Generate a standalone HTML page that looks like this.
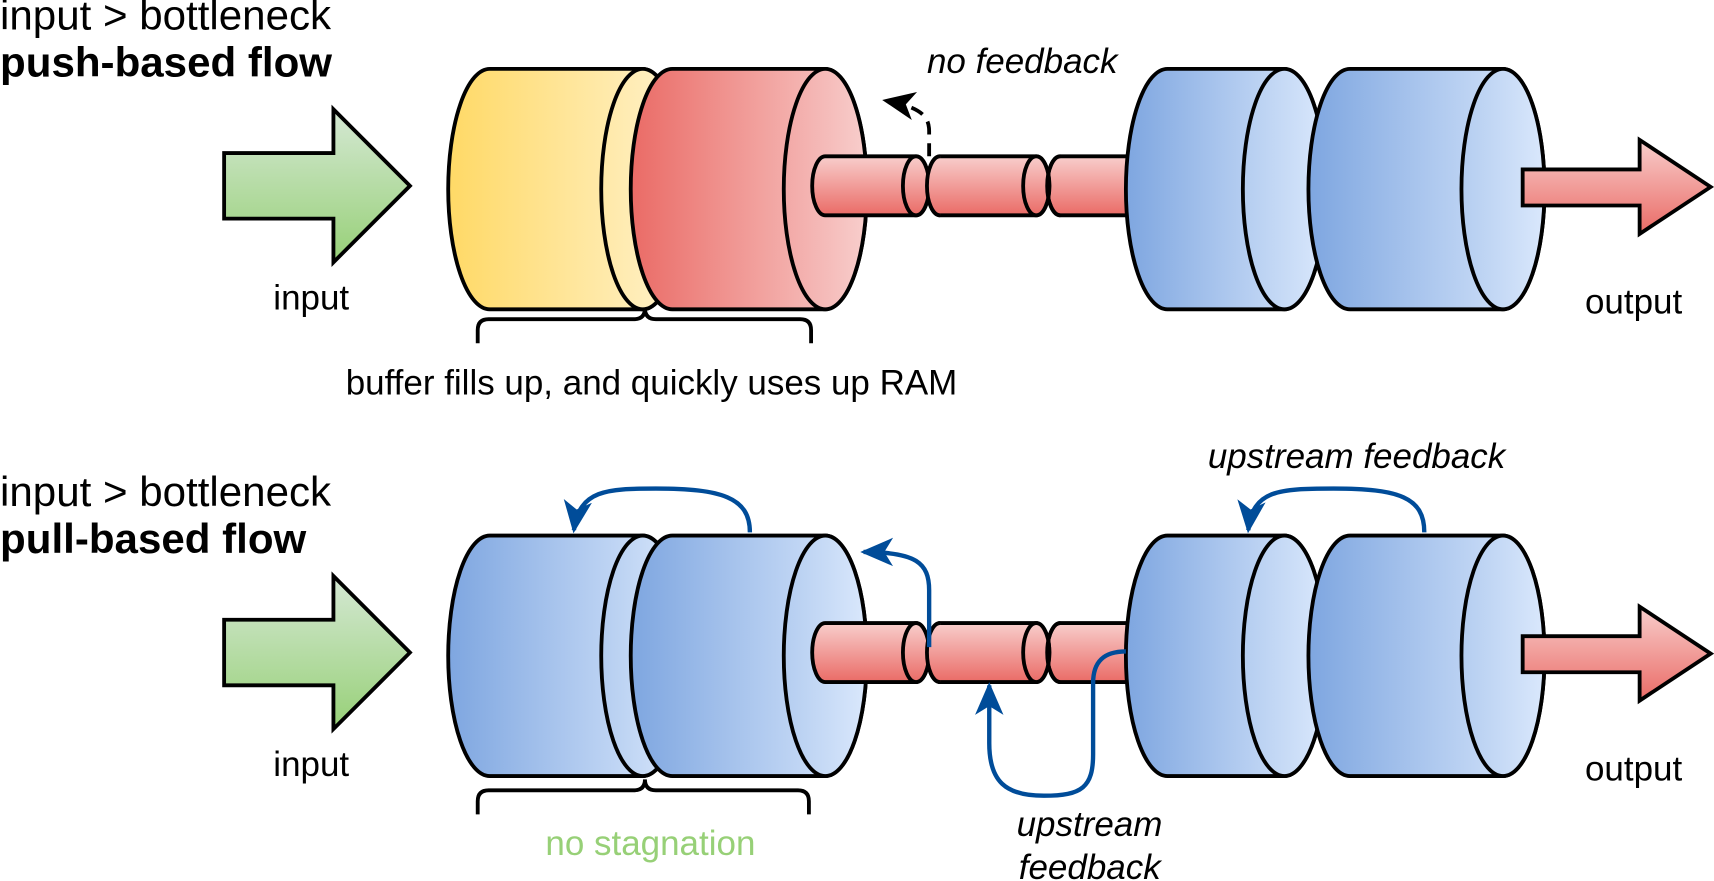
<!DOCTYPE html>
<html><head><meta charset="utf-8"><style>
html,body{margin:0;padding:0;background:#fff;}
svg{display:block;}
text{font-family:"Liberation Sans",Arial,sans-serif;}
</style></head><body>
<svg width="1714" height="881" viewBox="0 0 1568 806" xmlns="http://www.w3.org/2000/svg">
<defs>
<linearGradient id="gy" x1="0" x2="1" y1="0" y2="0"><stop offset="0" stop-color="#ffd966"/><stop offset="1" stop-color="#fff2cc"/></linearGradient>
<linearGradient id="gyf" x1="0" x2="1" y1="0" y2="0"><stop offset="0" stop-color="#ffe9a8"/><stop offset="1" stop-color="#fff2cc"/></linearGradient>
<linearGradient id="gr" x1="0" x2="1" y1="0" y2="0"><stop offset="0" stop-color="#ea6b66"/><stop offset="1" stop-color="#f8cecc"/></linearGradient>
<linearGradient id="grf" x1="0" x2="1" y1="0" y2="0"><stop offset="0" stop-color="#f2a8a6"/><stop offset="1" stop-color="#f8cecc"/></linearGradient>
<linearGradient id="gb" x1="0" x2="1" y1="0" y2="0"><stop offset="0" stop-color="#7ea6e0"/><stop offset="1" stop-color="#dae8fc"/></linearGradient>
<linearGradient id="gbf" x1="0" x2="1" y1="0" y2="0"><stop offset="0" stop-color="#b4cdf0"/><stop offset="1" stop-color="#dae8fc"/></linearGradient>
<linearGradient id="gp" x1="0" x2="0" y1="0" y2="1"><stop offset="0" stop-color="#f8cecc"/><stop offset="1" stop-color="#ea6b66"/></linearGradient>
<linearGradient id="gg" x1="0" x2="0" y1="0" y2="1"><stop offset="0" stop-color="#d5e8d4"/><stop offset="1" stop-color="#97d077"/></linearGradient>
<marker id="mb" viewBox="0 0 30 30" refX="27" refY="15" markerWidth="30" markerHeight="30" markerUnits="userSpaceOnUse" orient="auto">
<path d="M30,15 L0,2 L8,15 L0,28 Z" fill="#004c99"/></marker>
<marker id="mk" viewBox="0 0 30 30" refX="27" refY="15" markerWidth="30" markerHeight="30" markerUnits="userSpaceOnUse" orient="auto">
<path d="M30,15 L0,2 L8,15 L0,28 Z" fill="#000"/></marker>
<g id="arrowIn"><path d="M205,140 L305,140 L305,100 L375,170 L305,240 L305,200 L205,200 Z" fill="url(#gg)" stroke="#000" stroke-width="3.5"/></g>
<g id="arrowOut"><path d="M1393,155 L1500,155 L1500,128 L1565,171 L1500,214 L1500,188 L1393,188 Z" fill="url(#gp)" stroke="#000" stroke-width="3.5"/></g>
<g id="pipe" stroke="#000" stroke-width="3.5" fill="url(#gp)">
<path d="M970,143 L1050,143 L1050,197 L970,197 A12,27 0 0 1 970,143 Z"/>
<path d="M860,143 L948,143 A12,27 0 0 1 948,197 L860,197 A12,27 0 0 1 860,143 Z"/>
<ellipse cx="948" cy="170" rx="12" ry="27"/>
<path d="M970,143 A12,27 0 0 0 970,197" fill="none"/>
<path d="M755,143 L838,143 A12,27 0 0 1 838,197 L755,197 A12,27 0 0 1 755,143 Z"/>
<ellipse cx="838" cy="170" rx="12" ry="27"/>
<path d="M860,143 A12,27 0 0 0 860,197" />
</g>
</defs>

<text x="0" y="27" font-size="38.5">input &gt; bottleneck</text>
<text x="0" y="70" font-size="38.5" font-weight="bold">push-based flow</text>
<use href="#arrowIn"/>
<text x="250" y="283" font-size="32">input</text>
<text x="1450" y="287" font-size="32">output</text>

<g stroke="#000" stroke-width="3.5">
<path d="M448,63 L588,63 A38,110 0 0 1 588,283 L448,283 A38,110 0 0 1 448,63 Z" fill="url(#gy)"/>
<ellipse cx="588" cy="173" rx="38" ry="110" fill="url(#gyf)"/>
<path d="M615,63 L755,63 A38,110 0 0 1 755,283 L615,283 A38,110 0 0 1 615,63 Z" fill="url(#gr)"/>
<ellipse cx="755" cy="173" rx="38" ry="110" fill="url(#grf)"/>
</g>
<use href="#pipe"/>
<g stroke="#000" stroke-width="3.5">
<path d="M1068,63 L1175,63 A38,110 0 0 1 1175,283 L1068,283 A38,110 0 0 1 1068,63 Z" fill="url(#gb)"/>
<ellipse cx="1175" cy="173" rx="38" ry="110" fill="url(#gbf)"/>
<path d="M1235,63 L1375,63 A38,110 0 0 1 1375,283 L1235,283 A38,110 0 0 1 1235,63 Z" fill="url(#gb)"/>
<ellipse cx="1375" cy="173" rx="38" ry="110" fill="url(#gbf)"/>
</g>
<use href="#arrowOut"/>
<path d="M850,143 L850,120 C850,106 842,98 810,92" fill="none" stroke="#000" stroke-width="3.5" stroke-dasharray="12,8" marker-end="url(#mk)"/>
<text x="848" y="67" font-size="32" font-style="italic">no feedback</text>
<path d="M437,314 L437,302 Q437,292 447,292 L580,292 Q590,292 590,282 Q590,292 600,292 L732,292 Q742,292 742,302 L742,314" fill="none" stroke="#000" stroke-width="3.5"/>
<text x="596" y="361" font-size="32" text-anchor="middle">buffer fills up, and quickly uses up RAM</text>

<text x="0" y="463" font-size="38.5">input &gt; bottleneck</text>
<text x="0" y="506" font-size="38.5" font-weight="bold">pull-based flow</text>
<g transform="translate(0,427)">
<use href="#arrowIn"/>
<g stroke="#000" stroke-width="3.5">
<path d="M448,63 L588,63 A38,110 0 0 1 588,283 L448,283 A38,110 0 0 1 448,63 Z" fill="url(#gb)"/>
<ellipse cx="588" cy="173" rx="38" ry="110" fill="url(#gbf)"/>
<path d="M615,63 L755,63 A38,110 0 0 1 755,283 L615,283 A38,110 0 0 1 615,63 Z" fill="url(#gb)"/>
<ellipse cx="755" cy="173" rx="38" ry="110" fill="url(#gbf)"/>
</g>
<use href="#pipe"/>
<g stroke="#000" stroke-width="3.5">
<path d="M1068,63 L1175,63 A38,110 0 0 1 1175,283 L1068,283 A38,110 0 0 1 1068,63 Z" fill="url(#gb)"/>
<ellipse cx="1175" cy="173" rx="38" ry="110" fill="url(#gbf)"/>
<path d="M1235,63 L1375,63 A38,110 0 0 1 1375,283 L1235,283 A38,110 0 0 1 1235,63 Z" fill="url(#gb)"/>
<ellipse cx="1375" cy="173" rx="38" ry="110" fill="url(#gbf)"/>
</g>
<use href="#arrowOut"/>
</g>
<text x="250" y="710" font-size="32">input</text>
<text x="1450" y="714" font-size="32">output</text>

<g fill="none" stroke="#004c99" stroke-width="4">
<path d="M686,487 C686,455 660,447 600,447 C555,447 530,448 525,485" marker-end="url(#mb)"/>
<path d="M850,592 L850,540 C850,515 838,505 790,505" marker-end="url(#mb)"/>
<path d="M1030,596 C1010,596 1000,605 1000,625 L1000,690 C1000,720 990,728 955,728 C920,728 905,715 905,680 L905,627" marker-end="url(#mb)"/>
<path d="M1303,487 C1303,455 1280,447 1220,447 C1170,447 1146,448 1142,485" marker-end="url(#mb)"/>
</g>
<text x="1105" y="428" font-size="32" font-style="italic">upstream feedback</text>
<text x="930" y="765" font-size="32" font-style="italic">upstream</text>
<text x="932" y="804" font-size="32" font-style="italic">feedback</text>
<path d="M437,745 L437,733 Q437,723 447,723 L580,723 Q590,723 590,713 Q590,723 600,723 L730,723 Q740,723 740,733 L740,745" fill="none" stroke="#000" stroke-width="3.5"/>
<text x="595" y="782" font-size="32" text-anchor="middle" fill="#97d077">no stagnation</text>
</svg>
</body></html>
